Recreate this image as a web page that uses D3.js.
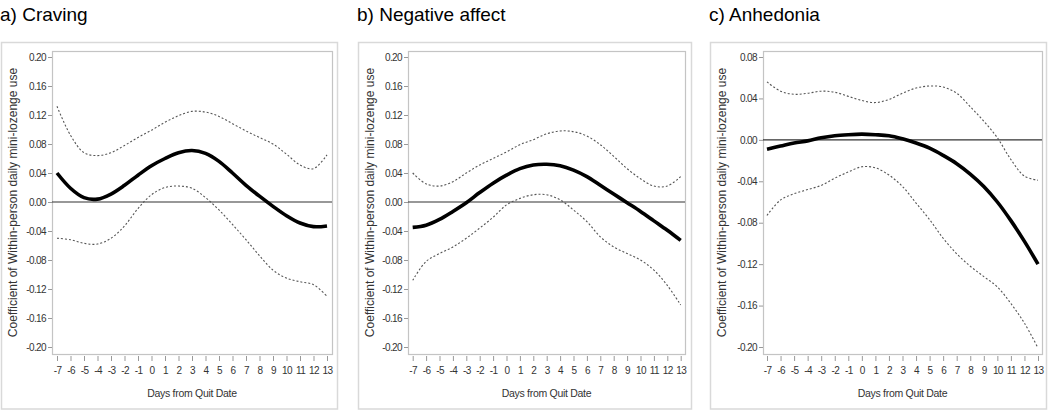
<!DOCTYPE html>
<html>
<head>
<meta charset="utf-8">
<script src="https://cdn.jsdelivr.net/npm/d3@7"></script>
<style>
  html, body { margin: 0; padding: 0; background: #fff; }
  svg { display: block; }
  .tick text { font-family: "Liberation Sans Narrow", "Arial Narrow", "Liberation Sans", Arial, sans-serif; font-size: 10px; fill: #333; letter-spacing: -0.6px; }
</style>
</head>
<body>
<svg id="chart" width="1050" height="410"></svg>
<script>
// ---- data ----
const days = [-7,-6,-5,-4,-3,-2,-1,0,1,2,3,4,5,6,7,8,9,10,11,12,13];
const panelTitles = ["a) Craving", "b) Negative affect", "c) Anhedonia"];
const yTicksAB = [0.20,0.16,0.12,0.08,0.04,0.00,-0.04,-0.08,-0.12,-0.16,-0.20];
const yTicksC  = [0.08,0.04,0.00,-0.04,-0.08,-0.12,-0.16,-0.20];

const cravingEst   = [0.040,0.019,0.006,0.004,0.011,0.023,0.037,0.050,0.060,0.068,0.071,0.067,0.056,0.040,0.023,0.008,-0.006,-0.019,-0.029,-0.034,-0.033];
const cravingUpper = [0.132,0.092,0.068,0.064,0.068,0.078,0.089,0.099,0.110,0.119,0.125,0.124,0.118,0.108,0.098,0.089,0.080,0.066,0.051,0.046,0.065];
const cravingLower = [-0.050,-0.052,-0.057,-0.058,-0.050,-0.033,-0.009,0.010,0.020,0.022,0.019,0.006,-0.011,-0.031,-0.052,-0.074,-0.094,-0.105,-0.110,-0.114,-0.130];

const negEst   = [-0.035,-0.032,-0.024,-0.013,-0.001,0.013,0.026,0.037,0.046,0.051,0.052,0.050,0.044,0.035,0.023,0.011,-0.001,-0.013,-0.026,-0.039,-0.053];
const negUpper = [0.040,0.025,0.022,0.028,0.040,0.051,0.060,0.069,0.079,0.086,0.094,0.098,0.097,0.091,0.079,0.063,0.046,0.032,0.022,0.022,0.035];
const negLower = [-0.108,-0.082,-0.071,-0.062,-0.050,-0.036,-0.021,-0.004,0.005,0.010,0.010,0.003,-0.011,-0.027,-0.048,-0.062,-0.071,-0.080,-0.094,-0.115,-0.142];

const anhEst   = [-0.009,-0.006,-0.003,-0.001,0.002,0.004,0.005,0.0055,0.005,0.004,0.001,-0.003,-0.008,-0.015,-0.023,-0.033,-0.045,-0.060,-0.078,-0.098,-0.120];
const anhUpper = [0.056,0.047,0.044,0.045,0.047,0.046,0.042,0.038,0.036,0.039,0.045,0.050,0.052,0.051,0.045,0.032,0.018,0.002,-0.019,-0.035,-0.039];
const anhLower = [-0.073,-0.058,-0.052,-0.048,-0.044,-0.037,-0.031,-0.026,-0.027,-0.034,-0.045,-0.061,-0.077,-0.095,-0.110,-0.122,-0.132,-0.142,-0.158,-0.177,-0.201];

const yTitle = "Coefficient of Within-person daily mini-lozenge use";
const xTitle = "Days from Quit Date";

// ---- layout ----
const panels = [
  { title: panelTitles[0], outer: [1, 337], frame: [52, 332], xr: [57, 327], yd: [-0.20, 0.20], ticks: yTicksAB, est: cravingEst, up: cravingUpper, lo: cravingLower },
  { title: panelTitles[1], outer: [358, 691], frame: [408, 685], xr: [412.7, 680.7], yd: [-0.20, 0.20], ticks: yTicksAB, est: negEst, up: negUpper, lo: negLower },
  { title: panelTitles[2], outer: [710, 1046], frame: [763, 1042], xr: [767, 1038], yd: [-0.20, 0.08], ticks: yTicksC, est: anhEst, up: anhUpper, lo: anhLower }
];
const outerTop = 42, outerBottom = 408.5;
const frameTop = 51, frameBottom = 354;
const yTop = 57, yBottom = 347;

const svg = d3.select("#chart");

panels.forEach(p => {
  const g = svg.append("g");
  // outer box
  g.append("rect").attr("x", p.outer[0] + 0.5).attr("y", outerTop + 0.5)
    .attr("width", p.outer[1] - p.outer[0]).attr("height", outerBottom - outerTop)
    .attr("fill", "none").attr("stroke", "#d9d9d9").attr("stroke-width", 1.5);
  // title
  g.append("text").attr("x", p.outer[0] - 1).attr("y", 21)
    .attr("font-family", "Liberation Sans, Arial, sans-serif").attr("font-size", 19)
    .attr("fill", "#000").text(p.title);

  const x = d3.scaleLinear().domain([-7, 13]).range(p.xr);
  const y = d3.scaleLinear().domain(p.yd).range([yBottom, yTop]);

  // frame
  g.append("rect").attr("x", p.frame[0] + 0.5).attr("y", frameTop + 0.5)
    .attr("width", p.frame[1] - p.frame[0]).attr("height", frameBottom - frameTop)
    .attr("fill", "none").attr("stroke", "#c4c4c4").attr("stroke-width", 1.2);

  // y axis
  const ya = g.append("g").attr("transform", `translate(${p.frame[0]},0)`)
    .call(d3.axisLeft(y).tickValues(p.ticks).tickFormat(d3.format(".2f")).tickSize(4).tickPadding(2));
  ya.select(".domain").remove();
  ya.selectAll(".tick line").attr("stroke", "#999");
  ya.selectAll(".tick text").text(d => d3.format(".2f")(d).replace("−", "-"));

  // x axis
  const xa = g.append("g").attr("transform", `translate(0,${frameBottom + 2})`)
    .call(d3.axisBottom(x).tickValues(days).tickFormat(d => String(d)).tickSize(5).tickPadding(6));
  xa.select(".domain").remove();
  xa.selectAll(".tick line").attr("stroke", "#999");
  xa.selectAll(".tick text").text(d => String(d));

  // axis titles
  g.append("text").attr("x", (p.frame[0] + p.frame[1]) / 2).attr("y", 397)
    .attr("text-anchor", "middle")
    .attr("font-family", "Liberation Sans Narrow, Arial Narrow, Liberation Sans, sans-serif")
    .attr("font-size", 10.5).attr("letter-spacing", "-0.3px").attr("fill", "#333").text(xTitle);
  g.append("text")
    .attr("transform", `translate(${p.outer[0] + 15.5},${(frameTop + frameBottom) / 2}) rotate(-90)`)
    .attr("text-anchor", "middle")
    .attr("font-family", "Liberation Sans, Arial, sans-serif")
    .attr("font-size", 12).attr("fill", "#333").text(yTitle);

  // zero reference line
  g.append("line").attr("x1", p.frame[0]).attr("x2", p.frame[1])
    .attr("y1", y(0)).attr("y2", y(0)).attr("stroke", "#333").attr("stroke-width", 1.2);

  const line = d3.line().x((d, i) => x(days[i])).y(d => y(d)).curve(d3.curveCatmullRom.alpha(0.5));
  [p.up, p.lo].forEach(arr => {
    g.append("path").attr("d", line(arr)).attr("fill", "none")
      .attr("stroke", "#555").attr("stroke-width", 1.1).attr("stroke-dasharray", "2,2");
  });
  g.append("path").attr("d", line(p.est)).attr("fill", "none")
    .attr("stroke", "#000").attr("stroke-width", 3.6).attr("stroke-linecap", "butt");
});
</script>
</body>
</html>
